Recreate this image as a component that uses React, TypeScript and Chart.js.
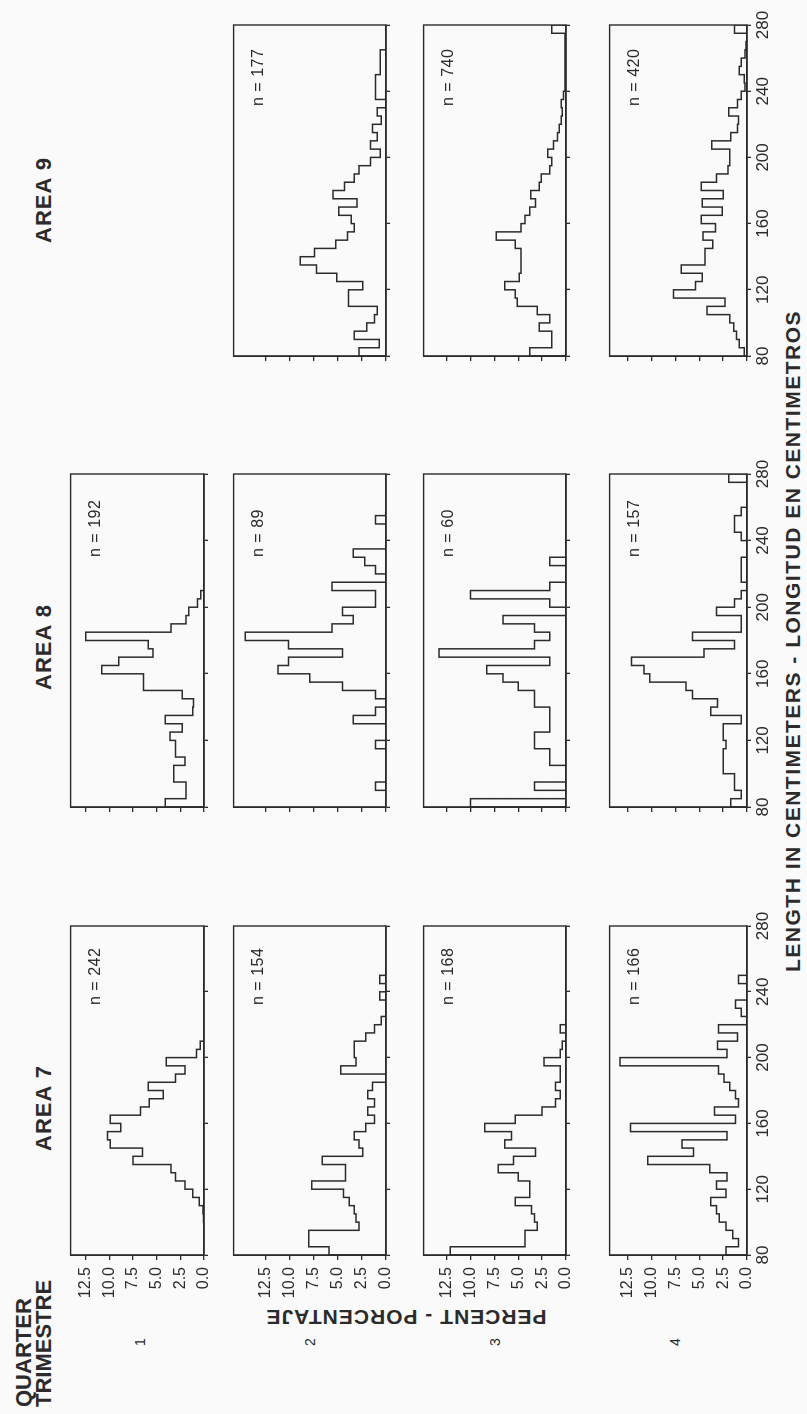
import React, { useEffect, useRef } from "react";
import { Chart, registerables } from "chart.js";
Chart.register(...registerables);

// ---- data (percent per 5-cm length class, classes start at 80 cm) ----
const binStarts = [80, 85, 90, 95, 100, 105, 110, 115, 120, 125, 130, 135, 140, 145, 150, 155, 160, 165, 170, 175,
  180, 185, 190, 195, 200, 205, 210, 215, 220, 225, 230, 235, 240, 245, 250, 255, 260, 265, 270, 275];
const binEnd = 280;

const xTicks = [80, 120, 160, 200, 240, 280];
const yTicks = [0, 2.5, 5, 7.5, 10, 12.5];

const area7q1 = [0, 0, 0, 0, 0.05, 0.1, 0.5, 1.2, 2.0, 3.0, 3.5, 7.5, 6.5, 9.9, 10.2, 8.8, 9.9, 6.7, 5.8, 4.3,
  5.9, 3.0, 2.0, 4.0, 0.8, 0.4, 0, 0, 0, 0, 0, 0, 0, 0, 0, 0, 0, 0, 0, 0];
const area7q2 = [5.9, 8.0, 8.0, 2.8, 3.1, 3.3, 3.8, 4.4, 7.7, 4.2, 4.2, 6.6, 2.4, 2.8, 3.3, 2.1, 1.2, 1.9, 1.2, 1.9,
  1.4, 0, 4.7, 3.1, 3.3, 3.3, 2.1, 1.2, 0.5, 0, 0, 0.65, 0, 0.65, 0, 0, 0, 0, 0, 0];
const area7q3 = [12.1, 4.3, 4.3, 3.0, 3.3, 3.6, 5.3, 3.8, 3.8, 5.0, 7.1, 5.5, 3.2, 6.4, 5.7, 8.5, 5.3, 2.5, 1.1, 0.6,
  1.1, 0.6, 0.6, 2.3, 0.6, 0.4, 0, 0.6, 0, 0, 0, 0, 0, 0, 0, 0, 0, 0, 0, 0];
const area7q4 = [2.2, 0.9, 1.5, 2.2, 2.9, 3.2, 3.8, 2.2, 3.2, 2.1, 3.9, 10.4, 5.6, 6.8, 2.1, 12.2, 1.2, 3.4, 0.9, 1.2,
  1.8, 2.4, 3.0, 13.3, 2.1, 3.1, 1.0, 3.0, 0, 0.6, 1.2, 0, 0, 0.9, 0, 0, 0, 0, 0, 0];

const area8q1 = [4.1, 1.9, 1.9, 3.2, 3.2, 2.0, 3.0, 3.0, 3.6, 2.3, 4.1, 1.2, 1.1, 2.3, 6.4, 6.4, 10.8, 9.0, 5.4, 5.9,
  12.5, 3.5, 1.9, 1.6, 0.7, 0.35, 0, 0, 0, 0, 0, 0, 0, 0, 0, 0, 0, 0, 0, 0];
const area8q2 = [0, 0, 1.1, 0, 0, 0, 0, 1.1, 0, 0, 3.4, 1.1, 0, 1.1, 4.5, 7.9, 11.2, 10.1, 4.5, 10.1,
  14.6, 5.6, 3.4, 4.5, 1.1, 1.1, 5.6, 0, 1.1, 2.2, 3.4, 0, 0, 0, 1.1, 0, 0, 0, 0, 0];
const area8q3 = [10.0, 0, 3.3, 0, 0, 1.7, 1.7, 3.3, 3.3, 1.7, 1.7, 1.7, 3.3, 3.3, 5.0, 6.6, 8.3, 1.7, 13.3, 3.3,
  1.7, 3.3, 6.6, 0, 1.7, 10.0, 1.7, 0, 0, 1.7, 0, 0, 0, 0, 0, 0, 0, 0, 0, 0];
const area8q4 = [1.7, 0.6, 1.3, 1.3, 2.5, 2.5, 2.5, 2.2, 2.5, 2.5, 0.6, 3.8, 3.1, 5.7, 6.4, 10.2, 10.8, 12.1, 4.5, 1.3,
  5.7, 0.6, 0.6, 3.2, 1.3, 0.6, 0, 0.6, 0.6, 0.6, 0, 0, 0.6, 1.3, 1.3, 0.6, 0, 0, 0, 1.9];

const area9q2 = [2.8, 0.7, 3.3, 2.0, 1.2, 0.9, 3.9, 3.9, 2.4, 5.1, 7.2, 8.9, 7.4, 5.2, 4.0, 3.3, 3.6, 4.9, 3.0, 5.5,
  4.3, 3.3, 2.8, 1.6, 0.6, 1.6, 0.9, 1.4, 0.5, 0.9, 0, 1.1, 1.1, 1.1, 0.6, 0.6, 0.6, 0, 0, 0];
const area9q3 = [3.8, 1.5, 1.5, 2.8, 1.7, 3.0, 5.1, 5.3, 6.4, 4.9, 4.7, 4.7, 4.7, 5.3, 7.3, 4.7, 4.3, 3.8, 3.2, 3.7,
  2.8, 2.6, 1.7, 1.5, 1.9, 1.3, 0.9, 0.7, 0.5, 0.4, 0.5, 0.25, 0.1, 0.1, 0.1, 0.1, 0.1, 0.1, 0.1, 1.5];
const area9q4 = [0.3, 0.8, 1.1, 1.4, 1.8, 4.2, 2.3, 7.7, 5.4, 4.7, 6.9, 4.4, 4.4, 3.6, 4.6, 3.3, 4.8, 2.6, 4.7, 2.5,
  4.8, 3.2, 2.0, 1.8, 1.8, 3.7, 1.7, 1.0, 0.9, 1.9, 1.0, 0.6, 0.2, 0.3, 0.8, 0.6, 0.2, 0.1, 0, 1.3];

const areaTitles = ["AREA 7", "AREA 8", "AREA 9"];
const quarterLabels = ["1", "2", "3", "4"];
const sampleSizes = [
  ["n = 242", "n = 154", "n = 168", "n = 166"],
  ["n = 192", "n = 89", "n = 60", "n = 157"],
  [null, "n = 177", "n = 740", "n = 420"],
];
const seriesByArea = [
  [area7q1, area7q2, area7q3, area7q4],
  [area8q1, area8q2, area8q3, area8q4],
  [null, area9q2, area9q3, area9q4],
];

// ---- layout (landscape frame, later rotated onto the portrait page) ----
const LW = 1414;
const LH = 807;
const areaBoxes = [
  { x0: 159, x1: 488, title: 306 },
  { x0: 607, x1: 940, title: 767 },
  { x0: 1058, x1: 1389, title: 1214 },
];
const rowBoxes = [
  { y0: 70, y1: 204, yMax: 14.1, label: 140 },
  { y0: 233, y1: 386, yMax: 15.8, label: 310 },
  { y0: 423, y1: 566, yMax: 14.9, label: 495 },
  { y0: 609, y1: 747, yMax: 14.4, label: 675 },
];
const PAD_L = 60, PAD_R = 26, PAD_T = 16, PAD_B = 36;
const INK = "#2b2b2b";
const FONT = "'Liberation Sans', Arial, Helvetica, sans-serif";

const boxPlugin = {
  id: "panelBox",
  afterDraw(chart: any) {
    const { ctx, chartArea: a } = chart;
    ctx.save();
    ctx.strokeStyle = INK;
    ctx.lineWidth = 1.4;
    ctx.strokeRect(a.left, a.top, a.right - a.left, a.bottom - a.top);
    ctx.restore();
  },
};

function Panel(props: { values: number[]; x0: number; x1: number; y0: number; y1: number; yMax: number; showX: boolean; showY: boolean }) {
  const ref = useRef<HTMLCanvasElement | null>(null);
  const { values, x0, x1, y0, y1, yMax, showX, showY } = props;
  const W = x1 - x0 + PAD_L + PAD_R;
  const H = y1 - y0 + PAD_T + PAD_B;

  useEffect(() => {
    if (!ref.current) return;
    const pts: { x: number; y: number }[] = [{ x: binStarts[0], y: 0 }];
    binStarts.forEach((s, i) => pts.push({ x: s, y: values[i] }));
    pts.push({ x: binEnd, y: values[values.length - 1] });
    pts.push({ x: binEnd, y: 0 });

    const chart = new Chart(ref.current, {
      type: "line",
      data: {
        datasets: [
          {
            data: pts,
            borderColor: INK,
            borderWidth: 1.5,
            pointRadius: 0,
            fill: false,
            stepped: "before",
            tension: 0,
          },
        ],
      },
      options: {
        animation: false,
        responsive: false,
        maintainAspectRatio: false,
        events: [],
        layout: { padding: { top: PAD_T, right: PAD_R, left: 0, bottom: 0 } },
        plugins: { legend: { display: false }, tooltip: { enabled: false }, title: { display: false } },
        scales: {
          x: {
            type: "linear",
            min: 80,
            max: 280,
            afterBuildTicks: (s: any) => { s.ticks = xTicks.map((v) => ({ value: v })); },
            afterFit: (s: any) => { s.height = PAD_B; },
            ticks: {
              autoSkip: false,
              maxRotation: 0,
              minRotation: 0,
              padding: 2,
              color: INK,
              font: { family: FONT, size: 17 },
              callback: (v: any) => (showX ? String(v) : ""),
            },
            grid: { drawOnChartArea: false, drawTicks: true, tickLength: 4, color: INK, lineWidth: 1.3 },
            border: { display: true, color: INK, width: 1.4 },
          },
          y: {
            type: "linear",
            min: 0,
            max: yMax,
            afterBuildTicks: (s: any) => { s.ticks = yTicks.map((v) => ({ value: v })); },
            afterFit: (s: any) => { s.width = PAD_L; },
            ticks: {
              padding: 7,
              color: INK,
              font: { family: FONT, size: 16 },
              callback: (v: any) => (showY ? Number(v).toFixed(1) : ""),
            },
            grid: { drawOnChartArea: false, drawTicks: true, tickLength: 5, color: INK, lineWidth: 1.3 },
            border: { display: true, color: INK, width: 1.4 },
          },
        },
      },
      plugins: [boxPlugin],
    } as any);
    return () => chart.destroy();
  }, [values, yMax, showX, showY]);

  return (
    <canvas
      ref={ref}
      width={W}
      height={H}
      style={{ position: "absolute", left: x0 - PAD_L, top: y0 - PAD_T, width: W, height: H }}
    />
  );
}

function Label(props: { x: number; y: number; text: string; size: number; bold?: boolean; align?: "left" | "center"; spacing?: number; rotate?: number }) {
  const { x, y, text, size, bold, align = "left", spacing = 0, rotate = 0 } = props;
  const tx = align === "center" ? "translate(-50%, -50%)" : "translate(0, -50%)";
  return (
    <div
      style={{
        position: "absolute",
        left: x,
        top: y,
        fontFamily: FONT,
        fontSize: size,
        fontWeight: bold ? 700 : 400,
        lineHeight: `${size}px`,
        letterSpacing: spacing,
        whiteSpace: "nowrap",
        color: INK,
        transform: `${tx}${rotate ? ` rotate(${rotate}deg)` : ""}`,
        transformOrigin: align === "center" ? "50% 50%" : "0 50%",
      }}
    >
      {text}
    </div>
  );
}

export default function App() {
  const panels: any[] = [];
  seriesByArea.forEach((rows, a) => {
    rows.forEach((vals, r) => {
      if (!vals) return;
      const ab = areaBoxes[a];
      const rb = rowBoxes[r];
      panels.push(
        <Panel
          key={`p${a}${r}`}
          values={vals}
          x0={ab.x0}
          x1={ab.x1}
          y0={rb.y0}
          y1={rb.y1}
          yMax={rb.yMax}
          showX={r === 3}
          showY={a === 0}
        />
      );
      const n = sampleSizes[a][r];
      if (n) panels.push(<Label key={`n${a}${r}`} x={ab.x0 + 250} y={rb.y0 + 25} text={n} size={16} spacing={0.5} />);
    });
  });

  return (
    <div style={{ position: "fixed", left: 0, top: 0, width: 807, height: 1414, background: "#fafafa", overflow: "hidden" }}>
      <div
        style={{
          position: "absolute",
          left: 0,
          top: 0,
          width: LW,
          height: LH,
          transformOrigin: "0 0",
          transform: `translateY(${LW}px) rotate(-90deg)`,
        }}
      >
        <Label x={7} y={24} text="QUARTER" size={22} bold />
        <Label x={7} y={44} text="TRIMESTRE" size={22} bold />
        {areaTitles.map((t, i) => (
          <Label key={t} x={areaBoxes[i].title} y={44} text={t} size={22} bold align="center" spacing={1} />
        ))}
        {quarterLabels.map((q, i) => (
          <Label key={q} x={72} y={rowBoxes[i].label} text={q} size={14} align="center" />
        ))}
        <Label x={97} y={406} text="PERCENT - PORCENTAJE" size={21} bold align="center" spacing={1} rotate={-90} />
        <Label x={773} y={792} text="LENGTH IN CENTIMETERS - LONGITUD EN CENTIMETROS" size={21} bold align="center" spacing={1.5} />
        {panels}
      </div>
    </div>
  );
}
